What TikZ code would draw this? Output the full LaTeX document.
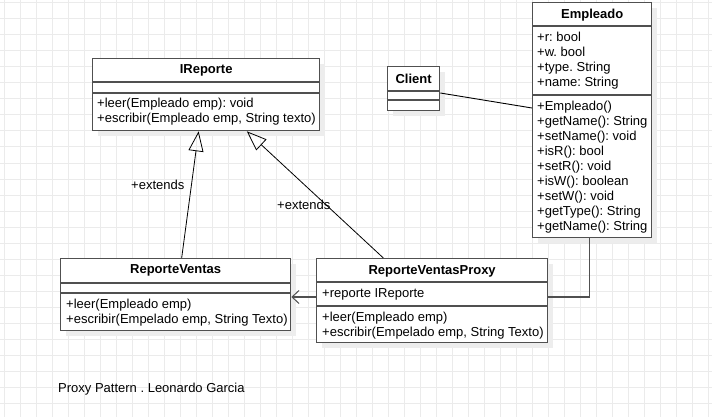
\documentclass[tikz,border=0pt]{standalone}
\usepackage{fontspec}
\setmainfont{Liberation Sans}
\usetikzlibrary{calc,positioning,arrows.meta,shadows}
\definecolor{rejilla}{HTML}{EBEBEB}
\definecolor{borde}{HTML}{505050}
\frenchspacing
\tikzset{
  clase/.style={
    rectangle,
    draw=borde, line width=1.3pt,
    fill=white,
    anchor=north west,
    inner sep=0pt,
    drop shadow={shadow xshift=5pt, shadow yshift=-5pt, fill=black!7, opacity=1}},
  separa/.style={draw=borde, line width=1.3pt},
  titulo/.style={font=\bfseries\fontsize{13}{15}\selectfont, inner sep=0pt},
  texto/.style={anchor=west, align=left, inner sep=0pt,
    font=\fontsize{13}{15}\selectfont},
  hereda/.style={draw=black, line width=0.8pt, -{Triangle[open, length=20pt, width=15pt, line width=0.8pt]}},
  usa/.style={draw=borde, line width=1.3pt, -{Straight Barb[length=7pt, width=13pt, line width=1pt]}},
  liga/.style={draw=black, line width=0.9pt},
}

\begin{document}
\begin{tikzpicture}[x=1pt, y=-1pt]

    \useasboundingbox (0,0) rectangle (712,417);
    \fill[white] (0,0) rectangle (712,417);

    % grid
    \foreach \x in {4,20,...,708} \draw[rejilla, line width=1pt] (\x,0) -- (\x,417);
    \foreach \y in {3,19,...,415} \draw[rejilla, line width=1pt] (0,\y) -- (712,\y);

    % IReporte
    \node[clase, minimum width=227pt, minimum height=72pt] (ir) at (92,58) {};
    \draw[separa] ($(ir.north west)+(0,24)$) -- ($(ir.north east)+(0,24)$);
    \draw[separa] ($(ir.north west)+(0,35)$) -- ($(ir.north east)+(0,35)$);
    \node[titulo] (irT) at ($(ir.north)+(0,12.5)$) {IReporte};
    \node[texto] (irM) at (97,112) {+leer(Empleado emp): void\\+escribir(Empleado emp, String texto)};

    % Client
    \node[clase, minimum width=52pt, minimum height=44pt] (cli) at (387,66) {};
    \draw[separa] ($(cli.north west)+(0,25)$) -- ($(cli.north east)+(0,25)$);
    \draw[separa] ($(cli.north west)+(0,34)$) -- ($(cli.north east)+(0,34)$);
    \node[titulo] (cliT) at ($(cli.north)+(0,13)$) {Client};

    % Empleado
    \node[clase, minimum width=119pt, minimum height=235pt] (emp) at (532,2) {};
    \draw[separa] ($(emp.north west)+(0,24)$) -- ($(emp.north east)+(0,24)$);
    \draw[separa] ($(emp.north west)+(0,93)$) -- ($(emp.north east)+(0,93)$);
    \node[titulo] (empT) at ($(emp.north)+(0,13.5)$) {Empleado};
    \node[texto] (empA) at (537,61) {+r: bool\\+w. bool\\+type. String\\+name: String};
    \node[texto] (empM) at (537,167) {+Empleado()\\+getName(): String\\+setName(): void\\+isR(): bool\\+setR(): void\\+isW(): boolean\\+setW(): void\\+getType(): String\\+getName(): String};

    % ReporteVentas
    \node[clase, minimum width=230pt, minimum height=72pt] (rv) at (60,258) {};
    \draw[separa] ($(rv.north west)+(0,25)$) -- ($(rv.north east)+(0,25)$);
    \draw[separa] ($(rv.north west)+(0,35)$) -- ($(rv.north east)+(0,35)$);
    \node[titulo] (rvT) at ($(rv.north)+(0,12.5)$) {ReporteVentas};
    \node[texto] (rvM) at (66,312.5) {+leer(Empleado emp)\\+escribir(Empelado emp, String Texto)};

    % ReporteVentasProxy
    \node[clase, minimum width=231pt, minimum height=84pt] (rvp) at (316,258) {};
    \draw[separa] ($(rvp.north west)+(0,24)$) -- ($(rvp.north east)+(0,24)$);
    \draw[separa] ($(rvp.north west)+(0,48)$) -- ($(rvp.north east)+(0,48)$);
    \node[titulo] (rvpT) at ($(rvp.north)+(0,13)$) {ReporteVentasProxy};
    \node[texto] (rvpA) at (322,294) {+reporte IReporte};
    \node[texto] (rvpM) at (322,326) {+leer(Empleado emp)\\+escribir(Empelado emp, String Texto)};

    % connectors
    \draw[hereda] ($(rv.north west)!0.526!(rv.north east)$) -- ($(ir.south west)!0.467!(ir.south east)$);
    \draw[hereda] ($(rvp.north west)!0.29!(rvp.north east)$) -- ($(ir.south west)!0.678!(ir.south east)$);
    \draw[usa] ($(rvp.north west)+(0,39)$) -- ($(rv.north east)+(0,39)$);
    \draw[liga] ($(cli.north east)+(0,27)$) -- ($(emp.north west)+(0,106)$);
    \draw[separa] ($(emp.south west)!0.479!(emp.south east)$) |- ($(rvp.north east)+(0,39)$);

    \node[texto] (ext1) at (131,185) {+extends};
    \node[texto] (ext2) at (277,205) {+extends};

    \node[texto] (pie) at (58,389) {Proxy Pattern . Leonardo Garcia};
  \end{tikzpicture}
\end{document}
